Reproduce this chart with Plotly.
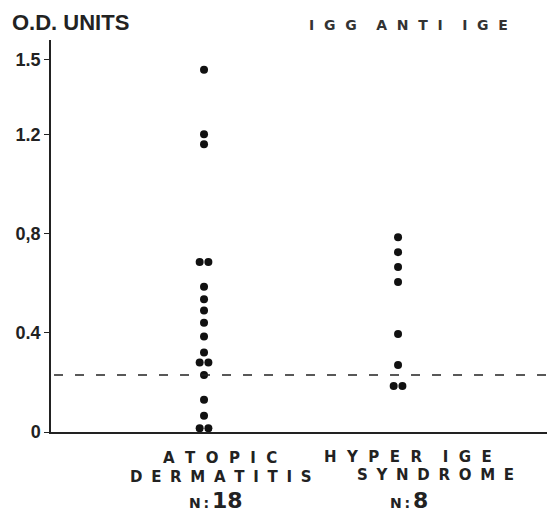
import plotly.graph_objects as go

# ---- data ----
groups = ["ATOPIC DERMATITIS", "HYPER IGE SYNDROME"]
atopic = [1.46, 1.20, 1.16, 0.685, 0.685, 0.585, 0.535, 0.49, 0.44, 0.385,
          0.32, 0.28, 0.28, 0.23, 0.13, 0.065, 0.015, 0.015]
hyper = [0.785, 0.725, 0.665, 0.605, 0.395, 0.27, 0.185, 0.185]
cutoff = 0.23
ytick_vals = [0, 0.4, 0.8, 1.2, 1.5]
ytick_text = ["0", "0.4", "0,8", "1.2", "1.5"]
n_labels = ["18", "8"]

# the page body has an 8px margin, so the figure is drawn 8px smaller
OFF = 8
W, H = 555 - OFF, 512 - OFF
L, T, B = 51 - OFF, 40 - OFF, 80
R = 0
PW, PH = W - L - R, H - T - B


def spread(values, center, gap=0.045):
    """Place equal values side by side around the group centre."""
    xs = []
    seen = {}
    counts = {v: values.count(v) for v in values}
    for v in values:
        i = seen.get(v, 0)
        seen[v] = i + 1
        xs.append(center + (i - (counts[v] - 1) / 2) * gap)
    return xs


def px(xp):
    return (xp - OFF - L) / PW


def py(yp):
    return (H - B - (yp - OFF)) / PH


fig = go.Figure()
for k, vals in enumerate([atopic, hyper]):
    fig.add_trace(go.Scatter(
        x=spread(vals, k + 1), y=vals, mode="markers",
        marker=dict(color="#111111", size=8), name=groups[k],
        showlegend=False, hoverinfo="y"))

fig.add_shape(type="line", xref="paper", yref="y", x0=0.006, x1=1,
              y0=cutoff, y1=cutoff,
              line=dict(color="#222222", width=1.6, dash="9px,12px"))

sp = "\u2007"
sp2 = "\u2008\u2009"
lab_font = dict(family="DejaVu Sans", size=15, color="#222222", weight="bold")
n_font = dict(family="DejaVu Sans", size=22, color="#222222", weight="bold")
small_n = "<span style='font-size:14px'>N\u2009:\u2009</span>"
annots = [
    ("O.D. UNITS", 10, 22, "left",
     dict(family="Liberation Sans", size=22, color="#222222", weight="bold")),
    (sp.join("IGG") + sp * 2 + sp.join("ANTI") + sp * 2 + sp.join("IGE"), 408, 25,
     "center", dict(family="DejaVu Sans", size=14, color="#333333", weight="bold")),
    (sp.join("ATOPIC"), 220, 458, "center", lab_font),
    (sp2.join("DERMATITIS"), 220, 477, "center", lab_font),
    (sp.join("HYPER") + sp * 2 + sp.join("IGE"), 408, 457, "center", lab_font),
    (sp2.join("SYNDROME"), 435, 475, "center", lab_font),
    (small_n + n_labels[0], 216, 500, "center", n_font),
    (small_n + n_labels[1], 409, 500, "center", n_font),
]
for text, xp, yp, anchor, font in annots:
    fig.add_annotation(text=text, xref="paper", yref="paper", x=px(xp), y=py(yp),
                       xanchor=anchor, yanchor="middle", showarrow=False, font=font)

fig.update_layout(
    width=W, height=H, margin=dict(l=L, r=R, t=T, b=B),
    paper_bgcolor="white", plot_bgcolor="white",
    xaxis=dict(range=[0.2113, 2.809], showgrid=False, zeroline=False,
               showticklabels=False, ticks="", showline=True,
               linecolor="#222222", linewidth=1.5, fixedrange=True),
    yaxis=dict(range=[0, 1.58], tickvals=ytick_vals, ticktext=ytick_text,
               showgrid=False, zeroline=False, showline=True,
               linecolor="#222222", linewidth=1.5, ticks="outside",
               ticklen=5, tickcolor="#222222",
               tickfont=dict(family="Liberation Sans", size=18, color="#222222",
                             weight="bold"), fixedrange=True),
)

fig.write_html("out.html")
